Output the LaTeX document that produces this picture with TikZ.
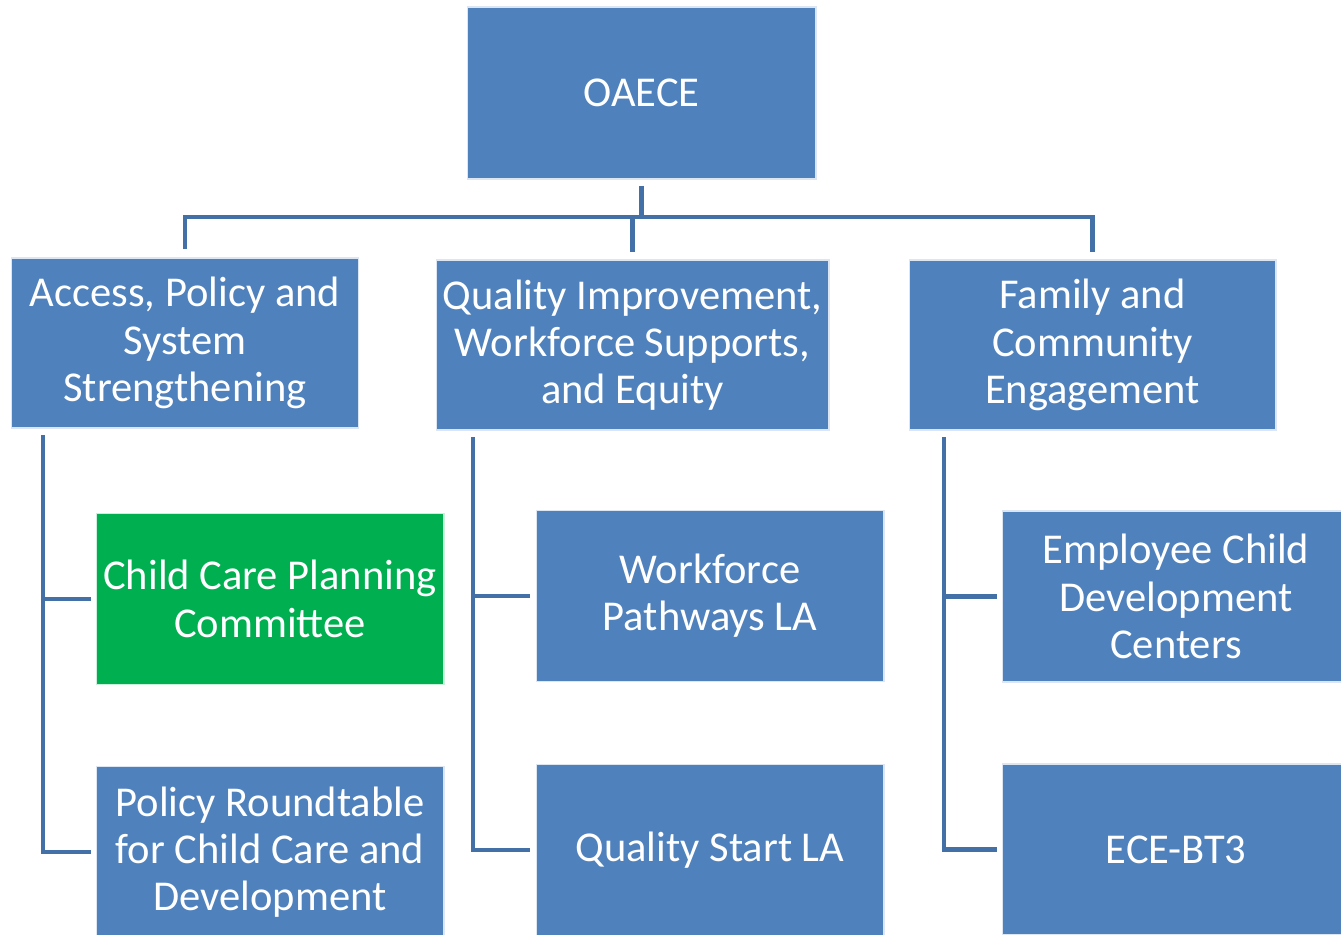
\documentclass[tikz,border=0pt]{standalone}
\usepackage{fontspec}
\setmainfont{Carlito}
\definecolor{boxblue}{HTML}{4F81BD}
\definecolor{boxgreen}{HTML}{00B050}
\definecolor{linkblue}{HTML}{4470A8}
\begin{document}
\begin{tikzpicture}[x=0.02cm, y=-0.02cm,
    unit/.style={rectangle, fill=boxblue, draw=white!80!boxblue, line width=0.6pt,
        text=white, align=center, inner sep=0pt,
        font=\fontsize{24.2}{26.9}\selectfont},
    head/.style={unit, minimum width=6.98cm, minimum height=3.44cm},
    group/.style={unit, minimum height=3.4cm},
    team/.style={unit, minimum width=6.96cm, minimum height=3.42cm},
    link/.style={draw=linkblue, line width=2.8pt}]
\useasboundingbox (0,0) rectangle (1341,935);
\node[head] (oaece) at (641.5,93) {OAECE};
\node[group, minimum width=6.96cm] (access) at (185,343) {Access, Policy and\\System\\Strengthening};
\node[group, minimum width=7.86cm] (quality) at (632.5,345) {Quality Improvement,\\Workforce Supports,\\and Equity};
\node[group, minimum width=7.34cm] (family) at (1092.5,345) {Family and\\Community\\Engagement};
\node[team, fill=boxgreen, draw=white!80!boxgreen] (ccpc) at (270,599) {Child Care Planning\\Committee};
\node[team] (policy) at (270,852) {Policy Roundtable\\for Child Care and\\Development};
\node[team] (workforce) at (710,596) {Workforce\\Pathways LA};
\node[team] (qstart) at (710,850) {Quality Start LA};
\node[team] (employee) at (1176,596.5) {Employee Child\\Development\\Centers};
\node[team] (ecebt) at (1176,849.5) {ECE-BT3};
% top level
\coordinate (bus) at (641,217);
\draw[link] ([yshift=-0.12cm]oaece.south) -- (oaece.south |- bus);
\draw[link] ([yshift=0.16cm]access.north) |- (bus -| family.north) -- ([yshift=0.14cm]family.north);
\draw[link] (bus -| quality.north) -- ([yshift=0.14cm]quality.north);
% branches
\coordinate (trunkA) at (43,435);
\coordinate (trunkB) at (473,437);
\coordinate (trunkC) at (944,437);
\draw[link] (trunkA) |- ([xshift=-0.1cm]policy.west);
\draw[link] (trunkA |- ccpc.west) -- ([xshift=-0.1cm]ccpc.west);
\draw[link] (trunkB) |- ([xshift=-0.12cm]qstart.west);
\draw[link] (trunkB |- workforce.west) -- ([xshift=-0.12cm]workforce.west);
\draw[link] (trunkC) |- ([xshift=-0.1cm]ecebt.west);
\draw[link] (trunkC |- employee.west) -- ([xshift=-0.1cm]employee.west);
\end{tikzpicture}
\end{document}
